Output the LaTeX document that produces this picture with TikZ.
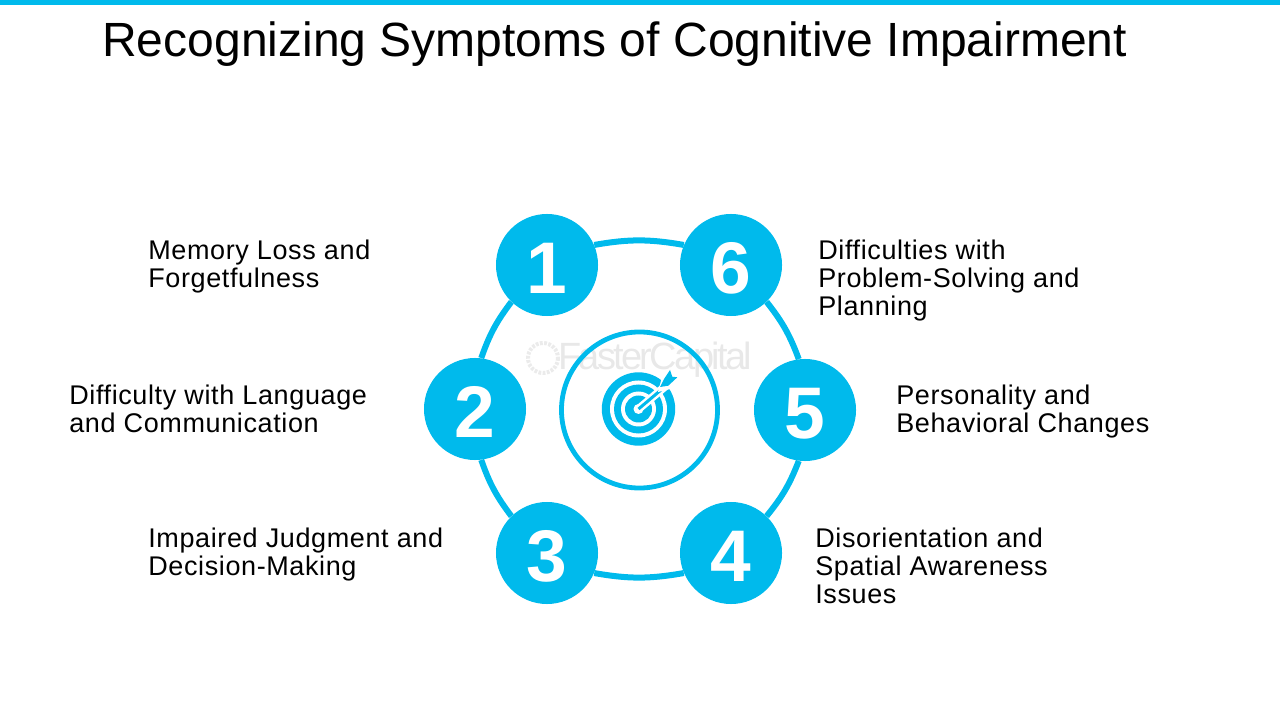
\documentclass[tikz,border=0pt]{standalone}
\usepackage{fontspec}
\setmainfont{Liberation Sans}
\definecolor{ringblue}{RGB}{0,186,236}
\tikzset{
  numdisc/.style={circle,fill=ringblue,minimum size=2.55cm,inner sep=0pt,text=white,text height=40pt,text depth=0pt,font=\fontsize{52}{52}\selectfont\bfseries},
  ringline/.style={draw=ringblue,line width=0.15cm},
  symptom/.style={anchor=north west,align=left,inner sep=0pt,font=\fontsize{19.2}{19.9}\selectfont\addfontfeature{LetterSpace=2.3}}
}
\begin{document}
\begin{tikzpicture}[x=0.025cm,y=-0.025cm]
\useasboundingbox (0,0) rectangle (1280,720);
\fill [ringblue] (0,0) rectangle (1280,5);
\node [anchor=base west,inner sep=0pt,font=\fontsize{34.15}{40}\selectfont] (title) at (102,57) {Recognizing Symptoms of Cognitive Impairment};
% watermark
\draw [gray!16,line width=0.1cm,dash pattern=on 2pt off 1pt] (543,358) circle (15);
\node [anchor=west,inner sep=0pt,text=gray!18,font=\fontsize{27}{30}\selectfont\addfontfeature{LetterSpace=-7}] (mark) at (558,360) {FasterCapital};
% centre
\node [circle,draw=ringblue,line width=0.12cm,minimum size=3.9cm,inner sep=0pt] (hub) at (639.5,410) {};
\fill [ringblue] (638.5,409) circle (36.7);
\fill [white] (638.5,409) circle (28.5);
\fill [ringblue] (638.5,409) circle (24.5);
\fill [white] (638.5,409) circle (17.5);
\fill [ringblue] (638.5,409) circle (13.5);
\fill [white] (638.5,409) circle (5);
\draw [white,line width=0.2cm] (638.5,409) -- (668,384);
\draw [ringblue,line width=0.075cm] (638.5,409) -- (668,384);
\fill [white] (658,392) -- (662,377) -- (670,367) -- (675,374) -- (681,376) -- (670,389) -- cycle;
\fill [ringblue] (660,387) -- (664,379) -- (670,370) -- (672.3,376.7) -- (677.3,377.3) -- (668.3,385.7) -- cycle;
% numbered discs
\node [numdisc] (n1) at (547,265) {1};
\node [numdisc] (n2) at (475,409) {2};
\node [numdisc] (n3) at (547,553) {3};
\node [numdisc] (n4) at (731,553) {4};
\node [numdisc] (n5) at (805,410) {5};
\node [numdisc] (n6) at (731,265) {6};
\draw [ringline] (n1.23) to [bend left=10] (n6.157);
\draw [ringline] (n6.-46) to [bend left=9] (n5.97);
\draw [ringline] (n5.-97) to [bend left=9] (n4.46);
\draw [ringline] (n4.-157) to [bend left=10] (n3.-23);
\draw [ringline] (n3.134) to [bend left=9] (n2.-83);
\draw [ringline] (n2.83) to [bend left=9] (n1.226);
% labels
\node [symptom] (l1) at (148,240) {Memory Loss and\\Forgetfulness};
\node [symptom] (l2) at (69,385) {Difficulty with Language\\and Communication};
\node [symptom] (l3) at (148,528) {Impaired Judgment and\\Decision-Making};
\node [symptom] (l4) at (815,528) {Disorientation and\\Spatial Awareness\\Issues};
\node [symptom] (l5) at (896,385) {Personality and\\Behavioral Changes};
\node [symptom] (l6) at (818,240) {Difficulties with\\Problem-Solving and\\Planning};
\end{tikzpicture}
\end{document}
